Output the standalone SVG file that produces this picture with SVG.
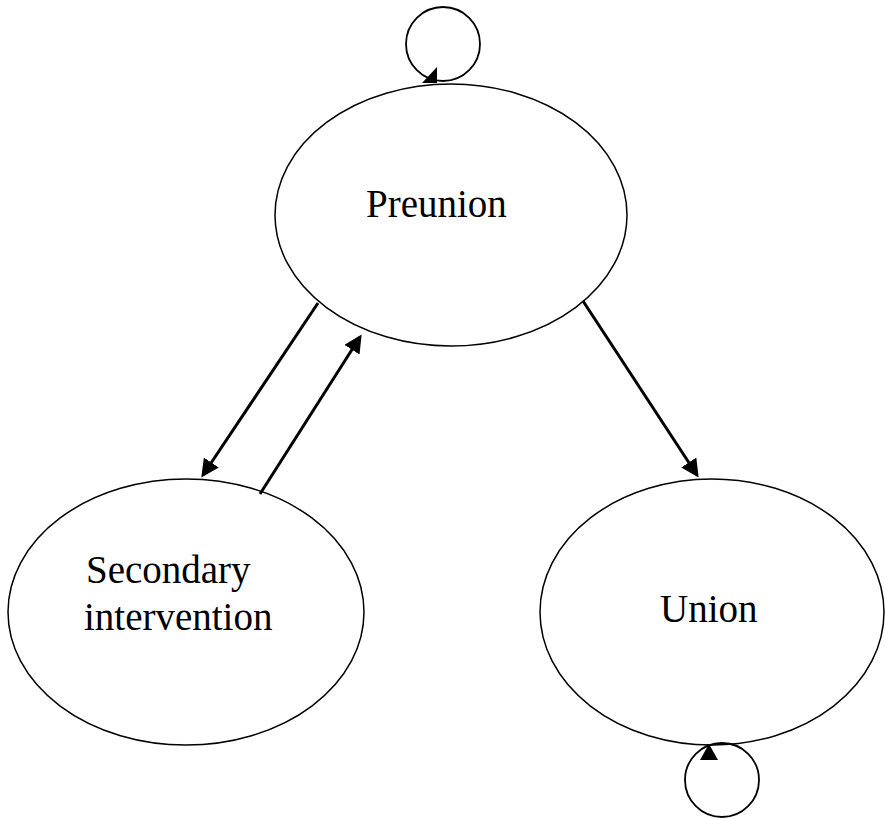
<svg xmlns="http://www.w3.org/2000/svg" width="885" height="818" viewBox="0 0 885 818">
<style>
.node{fill:#fff;stroke:#000;stroke-width:1.5}
.lbl{font-family:"Liberation Serif","Times New Roman",serif;font-size:39px;fill:#000}
.edge{fill:none;stroke:#000;stroke-width:3}
.loop{fill:none;stroke:#000;stroke-width:1.8}
</style>
<defs>
<marker id="ah" markerWidth="6" markerHeight="6" refX="5" refY="3" orient="auto" markerUnits="strokeWidth">
<path d="M0,0 L6,3 L0,6 z" fill="#000"/>
</marker>
</defs>
<rect width="885" height="818" fill="#fff"/>
<g id="preunion">
<ellipse class="node" cx="451" cy="215" rx="176" ry="131"/>
<text class="lbl" x="366" y="217">Preunion</text>
</g>
<g id="secondary">
<ellipse class="node" cx="186" cy="612" rx="178" ry="133"/>
<text class="lbl" x="86" y="583">Secondary</text>
<text class="lbl" x="84" y="630">intervention</text>
</g>
<g id="union">
<ellipse class="node" cx="712" cy="612" rx="172" ry="133"/>
<text class="lbl" x="660" y="622">Union</text>
</g>
<g id="connectors">
<line class="edge" x1="318" y1="303" x2="203" y2="475" marker-end="url(#ah)"/>
<line class="edge" x1="260" y1="494" x2="360" y2="337" marker-end="url(#ah)"/>
<line class="edge" x1="583" y1="301" x2="697" y2="475" marker-end="url(#ah)"/>
<circle class="loop" cx="443" cy="44" r="37"/>
<path d="M422,83 L437,67 L437,83 z" fill="#000"/>
<circle class="loop" cx="722" cy="780" r="37"/>
<path d="M709,744 L700,760 L718,760 z" fill="#000"/>
</g>
</svg>
